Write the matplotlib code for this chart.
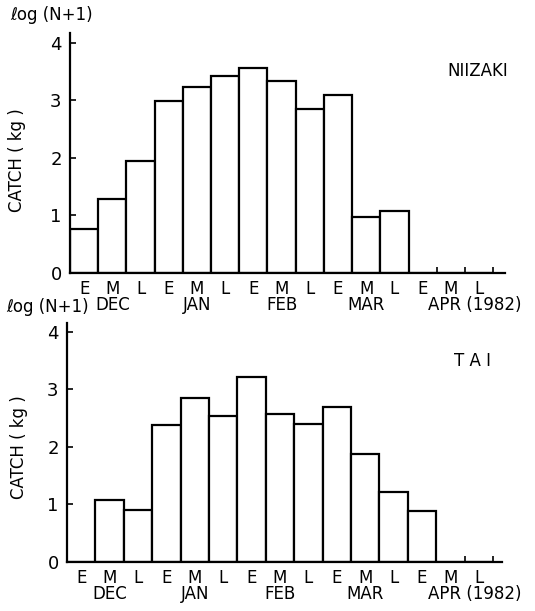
import numpy as np
import matplotlib.pyplot as plt
from matplotlib.transforms import blended_transform_factory

# ten-day periods (early / middle / late) for Dec 1981 - Apr 1982
periods = ['E', 'M', 'L'] * 5
months = ['DEC', 'JAN', 'FEB', 'MAR', 'APR (1982)']

# log(N+1) of catch (kg)
niizaki = [0.77, 1.28, 1.95, 2.99, 3.24, 3.43, 3.57, 3.34, 2.85, 3.09, 0.98, 1.07, 0, 0, 0]
tai = [0, 1.07, 0.90, 2.38, 2.85, 2.53, 3.22, 2.57, 2.39, 2.70, 1.87, 1.21, 0.88, 0, 0]

W, H = 535, 611
plt.rcParams['font.family'] = ['DejaVu Sans']


def fpos(x, y):
    return x / W, 1 - y / H


def draw_panel(ax, values, site, site_x, xmax, ymax):
    x = np.arange(len(values))
    ax.bar(x + 0.5, values, width=1.0, facecolor='white', edgecolor='black', linewidth=1.6)
    ax.set_xlim(0, xmax)
    ax.set_ylim(0, ymax)
    for s in ['top', 'right']:
        ax.spines[s].set_visible(False)
    for s in ['left', 'bottom']:
        ax.spines[s].set_linewidth(1.6)
    ax.set_yticks([0, 1, 2, 3, 4])
    ax.tick_params(axis='y', direction='in', length=4, width=1.2, labelsize=13, pad=6)
    ax.set_xticks(x + 0.5)
    ax.set_xticklabels(periods, fontsize=12)
    ax.tick_params(axis='x', which='major', length=0, pad=5)
    ax.set_xticks(np.arange(1, len(values) + 1), minor=True)
    ax.tick_params(axis='x', which='minor', direction='in', length=4, width=1.2)
    tr = blended_transform_factory(ax.transData, ax.transAxes)
    for i, m in enumerate(months):
        if m.startswith('APR'):
            ax.text(16.0, -0.135, m, transform=tr, ha='right', va='center', fontsize=12)
        else:
            ax.text(3 * i + 1.5, -0.135, m, transform=tr, ha='center', va='center', fontsize=12)
    ax.text(site_x, 0.84, site, transform=ax.transAxes, ha='right', va='center', fontsize=12)


fig = plt.figure(figsize=(W / 100, H / 100), dpi=100)

# top panel: NIIZAKI
x0, x1, yb, yt = 70, 505, 273, 33
ax1 = fig.add_axes([x0 / W, 1 - yb / H, (x1 - x0) / W, (yb - yt) / H])
draw_panel(ax1, niizaki, 'NIIZAKI', 1.007, 15.42, 4.17)
fig.text(*fpos(10, 15), '\u2113og (N+1)', ha='left', va='center', fontsize=12)
fig.text(*fpos(17, 160), 'CATCH ( kg )', rotation=90, ha='center', va='center', fontsize=12)

# bottom panel: TAI
x0, x1, yb, yt = 67, 502, 562, 323
ax2 = fig.add_axes([x0 / W, 1 - yb / H, (x1 - x0) / W, (yb - yt) / H])
draw_panel(ax2, tai, 'T A I', 0.975, 15.32, 4.15)
fig.text(*fpos(6, 307), '\u2113og (N+1)', ha='left', va='center', fontsize=12)
fig.text(*fpos(19, 447), 'CATCH ( kg )', rotation=90, ha='center', va='center', fontsize=12)

fig.savefig('out.png', dpi=100)
